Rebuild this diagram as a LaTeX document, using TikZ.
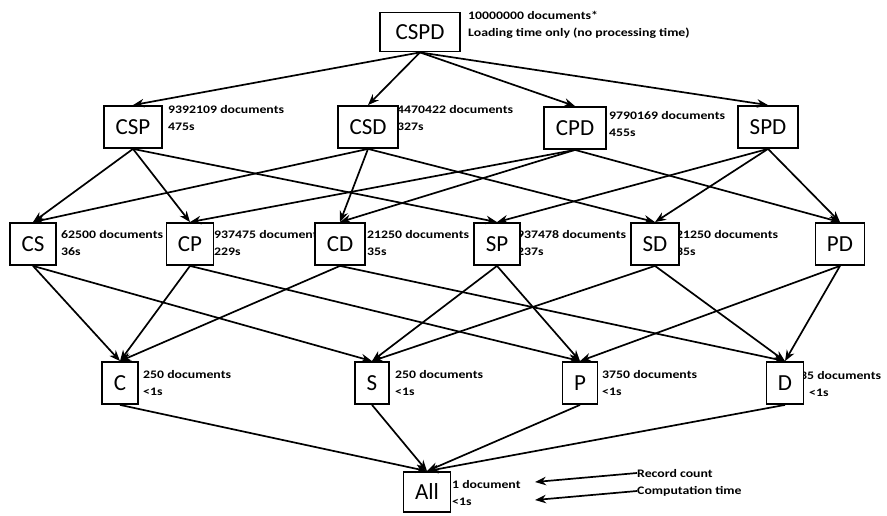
\documentclass[tikz,border=0pt]{standalone}
\usepackage{fontspec}
\setmainfont{Carlito}
\newfontfamily\lblfont{Carlito}[FakeStretch=1.2]
\usetikzlibrary{arrows.meta,backgrounds}
\begin{document}
\begin{tikzpicture}[x=1pt,y=-1pt,
  box/.style={draw,fill=white,line width=1.8pt,inner xsep=11.5pt,inner ysep=0pt,minimum height=42pt,font=\fontsize{23}{23}\selectfont},
  info/.style={anchor=west,align=left,inner sep=0pt,font=\lblfont\bfseries\fontsize{11.5}{17}\selectfont},
  edge/.style={line width=1.7pt,-{Stealth[length=11pt,width=8.5pt]}}]
\useasboundingbox (0,0) rectangle (887,515);
% boxes
\node[box,minimum width=80pt,minimum height=39pt] (cspd) at (420,32) {CSPD};
\node[box] (csp) at (133,127) {CSP};
\node[box] (csd) at (368,127) {CSD};
\node[box] (cpd) at (575,128) {CPD};
\node[box] (spd) at (768,127) {SPD};
\node[box] (cs) at (33,244) {CS};
\node[box] (cp) at (190,244) {CP};
\node[box] (cd) at (340,244) {CD};
\node[box] (sp) at (497,244) {SP};
\node[box] (sd) at (655,244) {SD};
\node[box] (pd) at (840,244) {PD};
\node[box] (c) at (120,383) {C};
\node[box] (s) at (372,383) {S};
\node[box] (p) at (580,383) {P};
\node[box] (d) at (785,383) {D};
\node[box,minimum height=40pt] (all) at (427,492) {All};
% labels
\begin{pgfonlayer}{background}
\node[info] (lcspd) at (468,25) {10000000 documents*\\Loading time only (no processing time)};
\node[info] (lcsp) at (168,118) {9392109 documents\\475s};
\node[info] (lcsd) at (397,118) {4470422 documents\\327s};
\node[info] (lcpd) at (609,124) {9790169 documents\\455s};
\node[info] (lcs) at (61,243) {62500 documents\\36s};
\node[info] (lcp) at (214,243) {937475 documents\\229s};
\node[info] (lcd) at (367,243) {21250 documents\\35s};
\node[info] (lsp) at (517,243) {937478 documents\\237s};
\node[info] (lsd) at (676,243) {21250 documents\\35s};
\node[info] (lc) at (143,383) {250 documents\\<1s};
\node[info] (ls) at (395,383) {250 documents\\<1s};
\node[info] (lp) at (602,383) {3750 documents\\<1s};
\node[info] (ld) at (800,384) {35 documents\\\hspace*{9pt}<1s};
\node[info] (lall) at (452,493) {1 document\\<1s};
\end{pgfonlayer}
\node[info] (rc) at (637,473) {Record count};
\node[info] (ct) at (637,491) {Computation time};
\coordinate (rct) at (535,482);
\coordinate (ctt) at (535,500);
% edges
\foreach \a/\b in {cspd/csp,cspd/csd,cspd/cpd,cspd/spd,
  csp/cs,csp/cp,csp/sp,csd/cs,csd/cd,csd/sd,cpd/cp,cpd/cd,cpd/pd,spd/sp,spd/sd,spd/pd,
  cs/c,cs/s,cp/c,cp/p,cd/c,cd/d,sp/s,sp/p,sd/s,sd/d,pd/p,pd/d,
  c/all,s/all,p/all,d/all}
  \draw[edge] (\a.south) -- (\b.north);
\draw[edge] (rc.west) -- (rct);
\draw[edge] (ct.west) -- (ctt);
\end{tikzpicture}
\end{document}
